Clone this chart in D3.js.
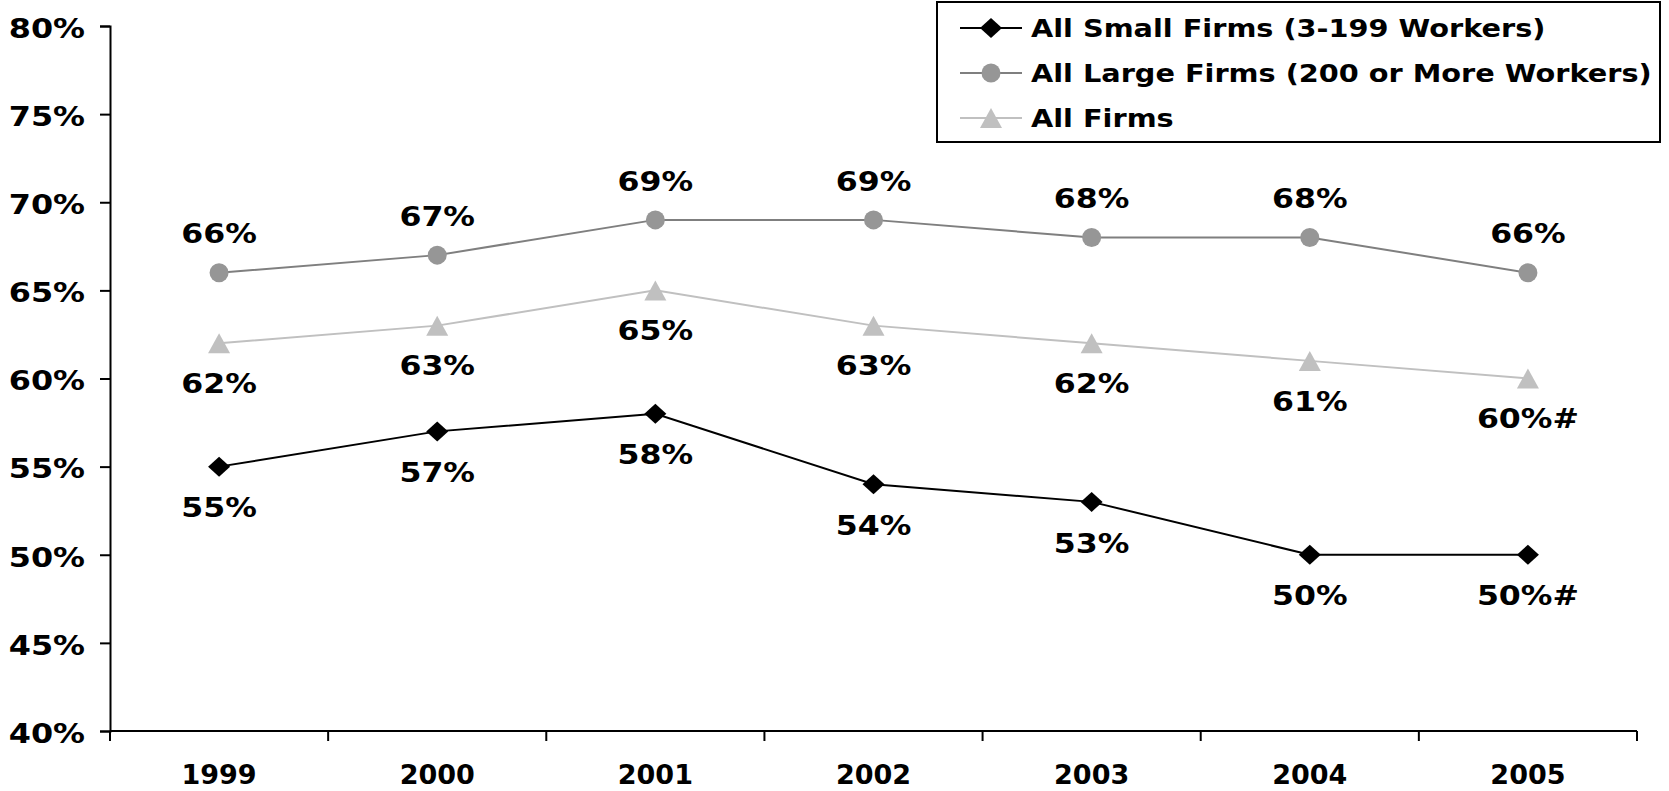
<!DOCTYPE html>
<html>
<head>
<meta charset="utf-8">
<script src="https://cdn.jsdelivr.net/npm/d3@7"></script>
<style>
  html, body { margin: 0; padding: 0; background: #fff; }
  svg { display: block; }
  text { font-family: "DejaVu Sans", Verdana, sans-serif; font-weight: bold; fill: #000; }
</style>
</head>
<body>
<svg id="chart" width="1669" height="791"></svg>
<script>
// Years on the category axis
const years = ["1999", "2000", "2001", "2002", "2003", "2004", "2005"];

// Percentages per firm size group
const smallFirms = [55, 57, 58, 54, 53, 50, 50];
const largeFirms = [66, 67, 69, 69, 68, 68, 66];
const allFirms   = [62, 63, 65, 63, 62, 61, 60];

// Value labels as printed next to each point
const smallLabels = ["55%", "57%", "58%", "54%", "53%", "50%", "50%#"];
const largeLabels = ["66%", "67%", "69%", "69%", "68%", "68%", "66%"];
const allLabels   = ["62%", "63%", "65%", "63%", "62%", "61%", "60%#"];

// Y axis ticks
const yTicks = [40, 45, 50, 55, 60, 65, 70, 75, 80];

const svg = d3.select("#chart");

const x = d3.scaleBand().domain(years).range([110, 1637]);
const y = d3.scaleLinear().domain([40, 80]).range([731, 26]);

// Wide bold lettering: horizontally stretched text anchored at (px, py)
function wideText(sel, px, py, sx) {
  return sel.attr("x", 0).attr("y", 0)
    .attr("transform", `translate(${px},${py}) scale(${sx},1)`);
}

// Y axis
const yAxis = svg.append("g")
  .attr("transform", "translate(110,0)")
  .call(d3.axisLeft(y).tickValues(yTicks).tickFormat(d => d + "%").tickSize(10).tickPadding(14));
yAxis.select(".domain").attr("stroke", "#000").attr("stroke-width", 2);
yAxis.selectAll(".tick line").attr("stroke", "#000").attr("stroke-width", 2);
yAxis.selectAll(".tick text")
  .attr("font-size", 27).attr("font-family", "DejaVu Sans").attr("font-weight", "bold").attr("fill", "#000")
  .attr("dy", "0.42em")
  .each(function() { wideText(d3.select(this), -25, 0, 1.18); });

// X axis: tick marks at category boundaries, labels at category centers
const xAxisG = svg.append("g").attr("transform", "translate(0,731)");
xAxisG.append("line")
  .attr("x1", 110).attr("x2", 1637).attr("y1", 0).attr("y2", 0)
  .attr("stroke", "#000").attr("stroke-width", 2);
const bounds = years.map(d => x(d)).concat([x.range()[1]]);
xAxisG.selectAll("line.bound").data(bounds).enter().append("line")
  .attr("class", "bound")
  .attr("x1", d => d).attr("x2", d => d).attr("y1", 0).attr("y2", 10)
  .attr("stroke", "#000").attr("stroke-width", 2);
xAxisG.selectAll("text").data(years).enter().append("text")
  .attr("x", d => x(d) + x.bandwidth() / 2)
  .attr("y", 53)
  .attr("text-anchor", "middle")
  .attr("font-size", 27)
  .text(d => d);

const cx = d => x(d) + x.bandwidth() / 2;

const series = [
  { name: "All Small Firms (3-199 Workers)", values: smallFirms, labels: smallLabels,
    line: "#000000", fill: "#000000", shape: "diamond", labelDy: 41 },
  { name: "All Large Firms (200 or More Workers)", values: largeFirms, labels: largeLabels,
    line: "#7f7f7f", fill: "#969696", shape: "circle", labelDy: -39 },
  { name: "All Firms", values: allFirms, labels: allLabels,
    line: "#c0c0c0", fill: "#c0c0c0", shape: "triangle", labelDy: 40 }
];

function drawMarker(g, shape, fill, px, py) {
  if (shape === "diamond") {
    g.append("path")
      .attr("d", `M${px},${py - 10}L${px + 11},${py}L${px},${py + 10}L${px - 11},${py}Z`)
      .attr("fill", fill);
  } else if (shape === "circle") {
    g.append("circle").attr("cx", px).attr("cy", py).attr("r", 9.5).attr("fill", fill);
  } else {
    g.append("path")
      .attr("d", `M${px},${py - 10}L${px + 11},${py + 10}L${px - 11},${py + 10}Z`)
      .attr("fill", fill);
  }
}

const line = d3.line().x(d => cx(d.year)).y(d => y(d.value));

// Draw lines first, then markers and labels on top
series.slice().reverse().forEach(s => {
  const pts = years.map((yr, i) => ({ year: yr, value: s.values[i] }));
  svg.append("path").datum(pts)
    .attr("d", line)
    .attr("fill", "none")
    .attr("stroke", s.line)
    .attr("stroke-width", 2);
});

series.forEach(s => {
  const g = svg.append("g");
  years.forEach((yr, i) => {
    drawMarker(g, s.shape, s.fill, cx(yr), y(s.values[i]));
    const t = g.append("text")
      .attr("dy", "0.36em")
      .attr("text-anchor", "middle")
      .attr("font-size", 27)
      .text(s.labels[i]);
    wideText(t, cx(yr), y(s.values[i]) + s.labelDy, 1.17);
  });
});

// Legend
const legend = svg.append("g");
legend.append("rect")
  .attr("x", 937).attr("y", 2).attr("width", 723).attr("height", 140)
  .attr("fill", "#fff").attr("stroke", "#000").attr("stroke-width", 2);
series.forEach((s, i) => {
  const ly = 28 + i * 45;
  legend.append("line")
    .attr("x1", 960).attr("x2", 1022).attr("y1", ly).attr("y2", ly)
    .attr("stroke", s.line).attr("stroke-width", 2);
  drawMarker(legend, s.shape, s.fill, 991, ly);
  const t = legend.append("text")
    .attr("dy", "0.36em")
    .attr("font-size", 25)
    .text(s.name);
  wideText(t, 1031, ly, 1.15);
});
</script>
</body>
</html>
